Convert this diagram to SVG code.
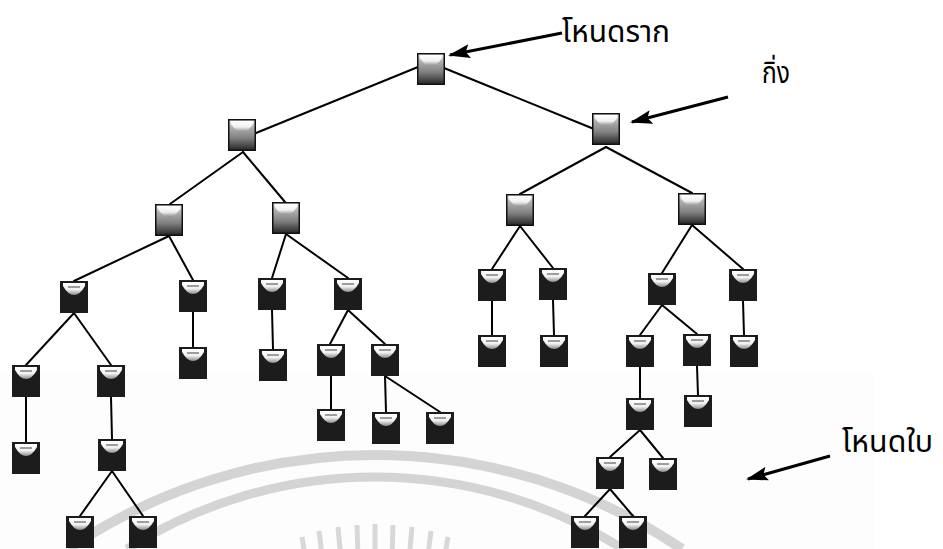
<svg xmlns="http://www.w3.org/2000/svg" xmlns:xlink="http://www.w3.org/1999/xlink" width="943" height="549" viewBox="0 0 943 549">
<style>
.edge{stroke:#000;stroke-width:2;fill:none;stroke-linecap:round}
.arrow{stroke:#000;stroke-width:3;fill:none}
.lbl{font-family:"Noto Sans Thai","Noto Sans","DejaVu Sans",sans-serif;font-size:30px;fill:#000}
.wm{stroke:#d4d4d4;fill:none}
</style>
<defs>
<linearGradient id="bowlG" x1="0" y1="0" x2="0" y2="1">
<stop offset="0" stop-color="#ffffff"/><stop offset="0.55" stop-color="#f0f0f0"/><stop offset="1" stop-color="#8a8a8a"/>
</linearGradient>
<linearGradient id="grayG" x1="0" y1="0" x2="0" y2="1">
<stop offset="0" stop-color="#f4f4f4"/><stop offset="0.25" stop-color="#b0b0b0"/><stop offset="0.6" stop-color="#808080"/><stop offset="1" stop-color="#262626"/>
</linearGradient>
<symbol id="dark" viewBox="0 0 28 32" width="28" height="32">
<rect x="0" y="0" width="28" height="32" fill="#1c1c1c"/>
<path d="M3,2 H25 V5 Q20,14 14,14 Q8,14 3,5 Z" fill="url(#bowlG)"/>
<path d="M8,6 H20" stroke="#444" stroke-width="1"/>
</symbol>
<symbol id="gray" viewBox="0 0 28 32" width="28" height="32">
<rect x="0.75" y="0.75" width="26.5" height="30.5" fill="url(#grayG)" stroke="#111" stroke-width="1.5"/>
<path d="M3,2 H25 V5 Q20,13 14,13 Q8,13 3,5 Z" fill="url(#bowlG)"/>
</symbol>
<marker id="ah" viewBox="0 0 22 14" refX="20" refY="7" markerWidth="22" markerHeight="14" orient="auto" markerUnits="userSpaceOnUse">
<path d="M0,0 L22,7 L0,14 L4,7 Z" fill="#000"/>
</marker>
</defs>
<rect width="943" height="549" fill="#fff"/>
<rect x="0" y="374" width="874" height="175" fill="#fdfdfd"/>
<g id="watermark">
<path class="wm" stroke-width="10" d="M68,549 A548,548 0 0 1 682,549"/>
<path class="wm" stroke-width="9" d="M127,549 A463,463 0 0 1 623,549"/>
<g stroke="#d8d8d8" stroke-width="5">
<line x1="307" y1="567" x2="302" y2="537"/>
<line x1="323" y1="563" x2="319" y2="531"/>
<line x1="341" y1="560" x2="338" y2="527"/>
<line x1="358" y1="558" x2="357" y2="525"/>
<line x1="375" y1="557" x2="375" y2="524"/>
<line x1="392" y1="558" x2="393" y2="525"/>
<line x1="409" y1="560" x2="412" y2="527"/>
<line x1="427" y1="563" x2="431" y2="531"/>
<line x1="443" y1="567" x2="448" y2="537"/>
</g>
</g>
<g id="connectors">
<line class="edge" x1="418" y1="67" x2="256" y2="133"/>
<line class="edge" x1="444" y1="68" x2="594" y2="129"/>
<line class="edge" x1="243" y1="152" x2="170" y2="204"/>
<line class="edge" x1="243" y1="152" x2="285" y2="202"/>
<line class="edge" x1="606" y1="147" x2="520" y2="194"/>
<line class="edge" x1="606" y1="147" x2="692" y2="193"/>
<line class="edge" x1="169" y1="236" x2="74" y2="281"/>
<line class="edge" x1="169" y1="236" x2="193" y2="280"/>
<line class="edge" x1="286" y1="234" x2="272" y2="278"/>
<line class="edge" x1="286" y1="234" x2="348" y2="278"/>
<line class="edge" x1="520" y1="226" x2="492" y2="269"/>
<line class="edge" x1="520" y1="226" x2="553" y2="268"/>
<line class="edge" x1="692" y1="225" x2="662" y2="273"/>
<line class="edge" x1="692" y1="225" x2="743" y2="269"/>
<line class="edge" x1="74" y1="313" x2="26" y2="365"/>
<line class="edge" x1="74" y1="313" x2="111" y2="365"/>
<line class="edge" x1="193" y1="312" x2="193" y2="347"/>
<line class="edge" x1="272" y1="310" x2="273" y2="349"/>
<line class="edge" x1="348" y1="310" x2="330" y2="344"/>
<line class="edge" x1="348" y1="310" x2="385" y2="344"/>
<line class="edge" x1="492" y1="301" x2="492" y2="335"/>
<line class="edge" x1="553" y1="300" x2="554" y2="335"/>
<line class="edge" x1="662" y1="305" x2="640" y2="335"/>
<line class="edge" x1="662" y1="305" x2="697" y2="334"/>
<line class="edge" x1="743" y1="301" x2="744" y2="335"/>
<line class="edge" x1="26" y1="397" x2="26" y2="442"/>
<line class="edge" x1="111" y1="397" x2="112" y2="439"/>
<line class="edge" x1="331" y1="376" x2="331" y2="409"/>
<line class="edge" x1="385" y1="376" x2="386" y2="412"/>
<line class="edge" x1="385" y1="376" x2="440" y2="412"/>
<line class="edge" x1="640" y1="367" x2="640" y2="398"/>
<line class="edge" x1="697" y1="366" x2="698" y2="395"/>
<line class="edge" x1="112" y1="471" x2="80" y2="516"/>
<line class="edge" x1="112" y1="471" x2="143" y2="516"/>
<line class="edge" x1="640" y1="430" x2="610" y2="457"/>
<line class="edge" x1="640" y1="430" x2="663" y2="458"/>
<line class="edge" x1="610" y1="489" x2="585" y2="516"/>
<line class="edge" x1="610" y1="489" x2="633" y2="516"/>
</g>
<g id="nodes">
<g id="root"><use xlink:href="#gray" x="417" y="53"/></g>
<g id="nA"><use xlink:href="#gray" x="228" y="119"/></g>
<g id="nB"><use xlink:href="#gray" x="592" y="113"/></g>
<g id="nA1"><use xlink:href="#gray" x="155" y="204"/></g>
<g id="nA2"><use xlink:href="#gray" x="272" y="202"/></g>
<g id="nB1"><use xlink:href="#gray" x="506" y="194"/></g>
<g id="nB2"><use xlink:href="#gray" x="678" y="193"/></g>
<g id="nA1a"><use xlink:href="#dark" x="60" y="281"/></g>
<g id="nA1b"><use xlink:href="#dark" x="179" y="280"/></g>
<g id="nA2a"><use xlink:href="#dark" x="258" y="278"/></g>
<g id="nA2b"><use xlink:href="#dark" x="334" y="278"/></g>
<g id="nB1a"><use xlink:href="#dark" x="478" y="269"/></g>
<g id="nB1b"><use xlink:href="#dark" x="539" y="268"/></g>
<g id="nB2a"><use xlink:href="#dark" x="648" y="273"/></g>
<g id="nB2b"><use xlink:href="#dark" x="729" y="269"/></g>
<g id="nA1a1"><use xlink:href="#dark" x="12" y="365"/></g>
<g id="nA1a2"><use xlink:href="#dark" x="97" y="365"/></g>
<g id="nA1b1"><use xlink:href="#dark" x="179" y="347"/></g>
<g id="nA2a1"><use xlink:href="#dark" x="259" y="349"/></g>
<g id="nA2b1"><use xlink:href="#dark" x="317" y="344"/></g>
<g id="nA2b2"><use xlink:href="#dark" x="371" y="344"/></g>
<g id="nB1a1"><use xlink:href="#dark" x="478" y="335"/></g>
<g id="nB1b1"><use xlink:href="#dark" x="540" y="335"/></g>
<g id="nB2a1"><use xlink:href="#dark" x="626" y="335"/></g>
<g id="nB2a2"><use xlink:href="#dark" x="683" y="334"/></g>
<g id="nB2b1"><use xlink:href="#dark" x="730" y="335"/></g>
<g id="nL5a"><use xlink:href="#dark" x="12" y="442"/></g>
<g id="nL5b"><use xlink:href="#dark" x="98" y="439"/></g>
<g id="nL5c"><use xlink:href="#dark" x="317" y="409"/></g>
<g id="nL5d"><use xlink:href="#dark" x="372" y="412"/></g>
<g id="nL5e"><use xlink:href="#dark" x="426" y="412"/></g>
<g id="nL5f"><use xlink:href="#dark" x="626" y="398"/></g>
<g id="nL5g"><use xlink:href="#dark" x="684" y="395"/></g>
<g id="nL6a"><use xlink:href="#dark" x="66" y="516"/></g>
<g id="nL6b"><use xlink:href="#dark" x="129" y="516"/></g>
<g id="nL6c"><use xlink:href="#dark" x="596" y="457"/></g>
<g id="nL6d"><use xlink:href="#dark" x="649" y="458"/></g>
<g id="nL7a"><use xlink:href="#dark" x="571" y="516"/></g>
<g id="nL7b"><use xlink:href="#dark" x="619" y="516"/></g>
</g>
<g id="annotations">
<line class="arrow" x1="562" y1="33" x2="450" y2="55" marker-end="url(#ah)"/>
<line class="arrow" x1="728" y1="97" x2="632" y2="122" marker-end="url(#ah)"/>
<line class="arrow" x1="830" y1="456" x2="748" y2="479" marker-end="url(#ah)"/>
<text class="lbl" x="562" y="42" textLength="108" lengthAdjust="spacingAndGlyphs">โหนดราก</text>
<text class="lbl" x="762" y="83" textLength="28" lengthAdjust="spacingAndGlyphs">กิ่ง</text>
<text class="lbl" x="842" y="452" textLength="91" lengthAdjust="spacingAndGlyphs">โหนดใบ</text>
</g>
</svg>
